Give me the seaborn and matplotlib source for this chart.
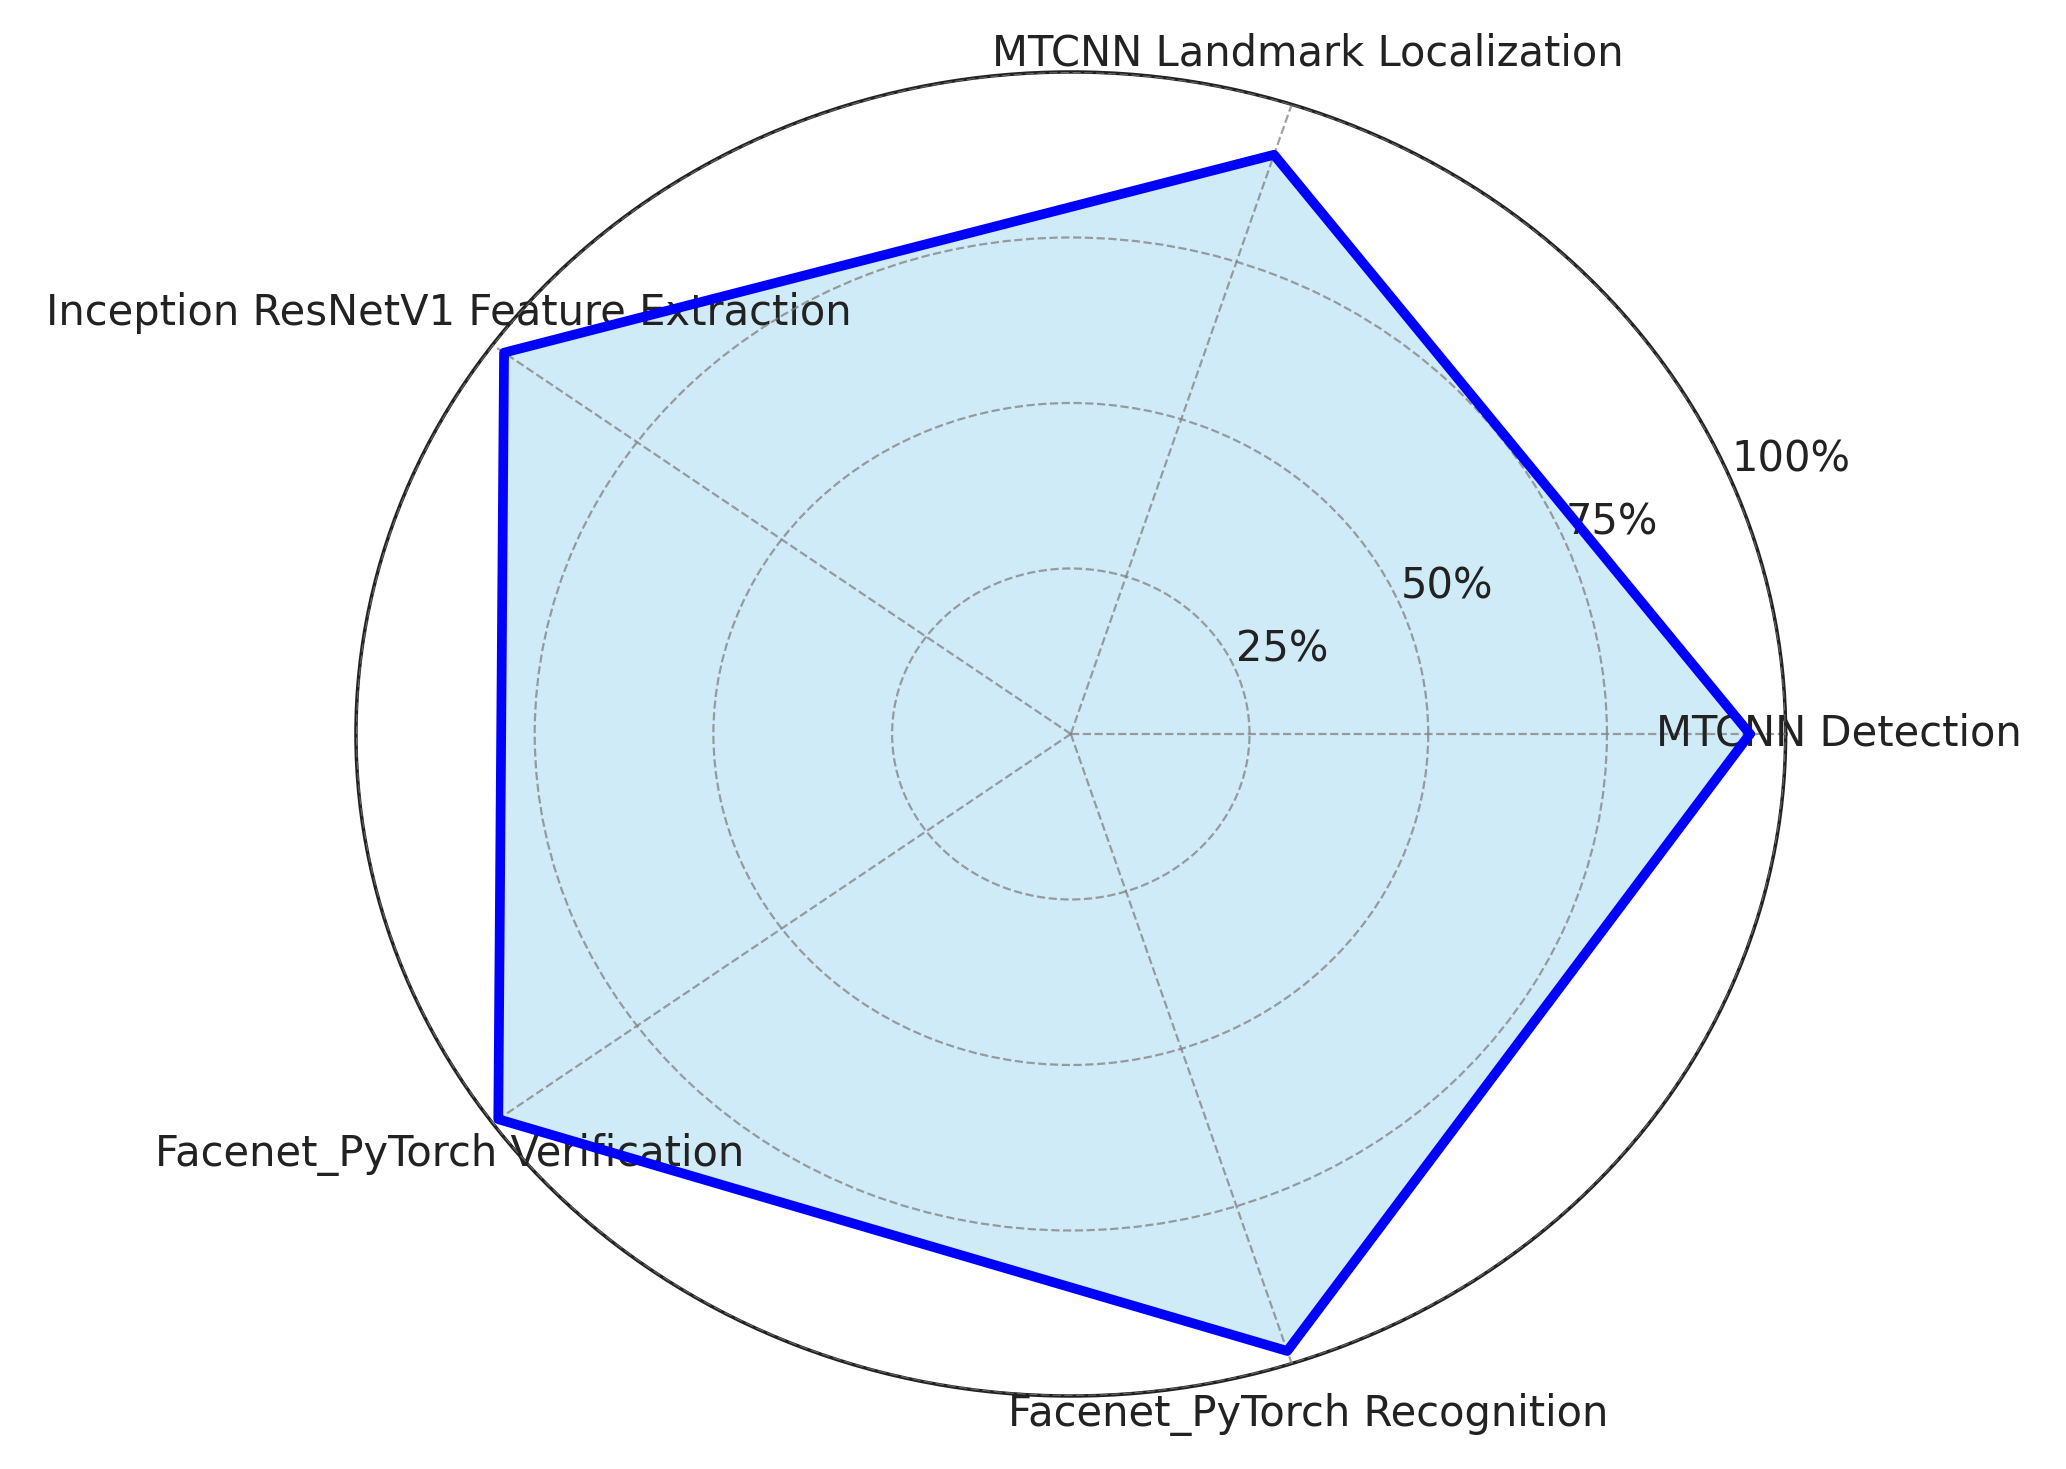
import numpy as np
import matplotlib
matplotlib.use("Agg")
import matplotlib.pyplot as plt
import seaborn as sns

categories = [
    "MTCNN Detection",
    "MTCNN Landmark Localization",
    "Inception ResNetV1 Feature Extraction",
    "Facenet_PyTorch Verification",
    "Facenet_PyTorch Recognition",
]
scores = [0.95, 0.92, 0.98, 0.99, 0.98]
r_ticks = [0.25, 0.50, 0.75, 1.00]
r_tick_labels = ["25%", "50%", "75%", "100%"]


def plot_radar():
    sns.set_style("white")
    plt.rcParams["font.family"] = ["DejaVu Sans"]

    n = len(categories)
    angles = np.linspace(0, 2 * np.pi, n, endpoint=False).tolist()
    # close the polygon
    angles_closed = angles + [angles[0] + 2 * np.pi]
    values_closed = scores + scores[:1]

    fig = plt.figure(figsize=(20.66, 14.69), dpi=100)
    ax = fig.add_axes([0.1723, 0.0497, 0.692, 0.9013], projection="polar")
    ax.set_aspect("auto")  # reference is stretched sideways
    ax.set_axisbelow(False)

    ax.fill(angles_closed, values_closed, color="skyblue", alpha=0.4, zorder=1)
    sns.lineplot(x=angles_closed, y=values_closed, sort=False, estimator=None,
                 ax=ax, color="blue", linewidth=7, zorder=3)

    ax.set_ylim(0, 1)
    ax.set_yticks(r_ticks)
    ax.set_yticklabels(r_tick_labels, fontsize=30, color="#222222")
    ax.set_xticks(angles)
    ax.set_xticklabels(categories, fontsize=30, color="#222222")
    ax.tick_params(axis="x", pad=28)

    ax.grid(True, linestyle="--", color="gray", linewidth=1.6, alpha=0.75)
    ax.spines["polar"].set_color("#222222")
    ax.spines["polar"].set_linewidth(2.5)

    fig.savefig("out.png", dpi=100, facecolor="white")


def main():
    plot_radar()


if __name__ == "__main__":
    main()
